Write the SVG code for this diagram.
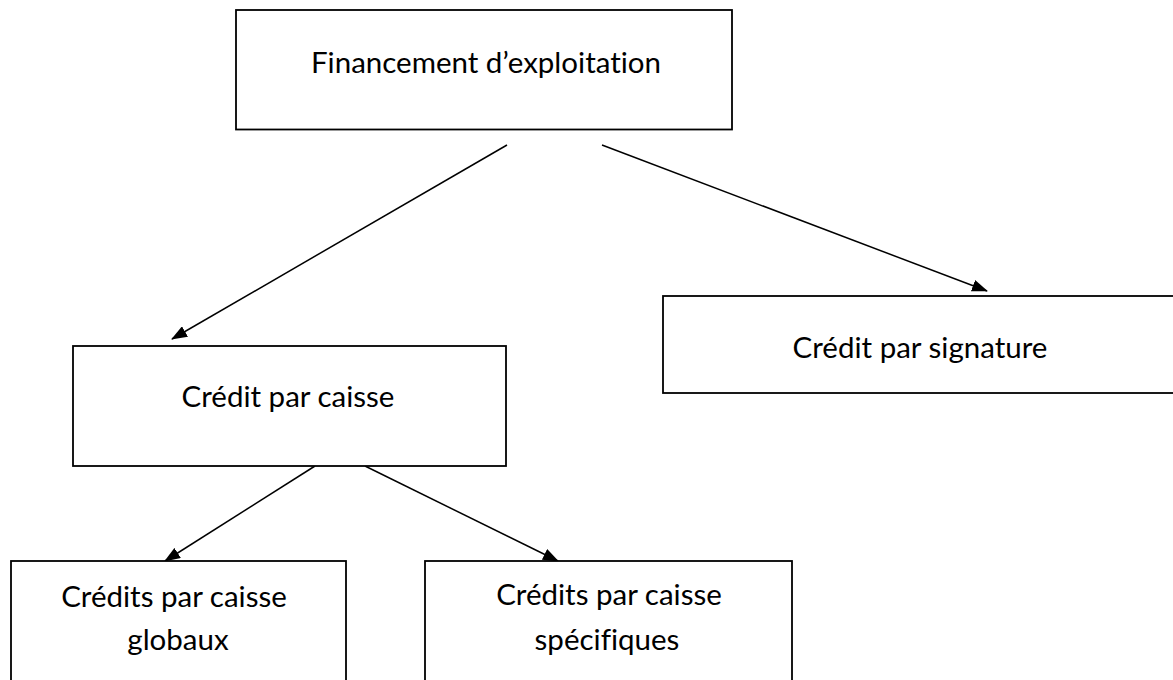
<svg xmlns="http://www.w3.org/2000/svg" width="1173" height="680" viewBox="0 0 1173 680">
  <style>
    .box { fill: #ffffff; stroke: #000000; stroke-width: 1.8; }
    .lbl { font-family: Lato, "Liberation Sans", sans-serif; font-size: 29.5px; fill: #000000; text-anchor: middle; font-variant-ligatures: none; font-feature-settings: "liga" 0; }
    .conn { stroke: #000000; stroke-width: 1.5; fill: none; marker-end: url(#arrow); }
  </style>
  <defs>
    <marker id="arrow" viewBox="0 0 16 12" refX="15" refY="6" markerWidth="16" markerHeight="12" markerUnits="userSpaceOnUse" orient="auto">
      <path d="M0,0 L16,6 L0,12 Z" fill="#000000"/>
    </marker>
  </defs>
  <rect width="1173" height="680" fill="#ffffff"/>

  <g id="connectors">
    <line class="conn" x1="507" y1="145" x2="172" y2="339"/>
    <line class="conn" x1="602" y1="145" x2="987" y2="291"/>
    <line class="conn" x1="315" y1="466" x2="165" y2="561"/>
    <line class="conn" x1="365" y1="466" x2="558" y2="561"/>
  </g>

  <g id="node-financement">
    <rect class="box" x="236" y="10" width="496" height="119.5"/>
    <text class="lbl" x="486" y="73">Financement d’exploitation</text>
  </g>

  <g id="node-signature">
    <rect class="box" x="663" y="296" width="530" height="97"/>
    <text class="lbl" x="920" y="358">Crédit par signature</text>
  </g>

  <g id="node-caisse">
    <rect class="box" x="73" y="346" width="433" height="120"/>
    <text class="lbl" x="288" y="407">Crédit par caisse</text>
  </g>

  <g id="node-globaux">
    <rect class="box" x="11" y="561" width="335" height="140"/>
    <text class="lbl" x="174" y="607">Crédits par caisse</text>
    <text class="lbl" x="178" y="650">globaux</text>
  </g>

  <g id="node-specifiques">
    <rect class="box" x="425" y="561" width="367" height="140"/>
    <text class="lbl" x="609" y="605">Crédits par caisse</text>
    <text class="lbl" x="607" y="650">spécifiques</text>
  </g>
</svg>
